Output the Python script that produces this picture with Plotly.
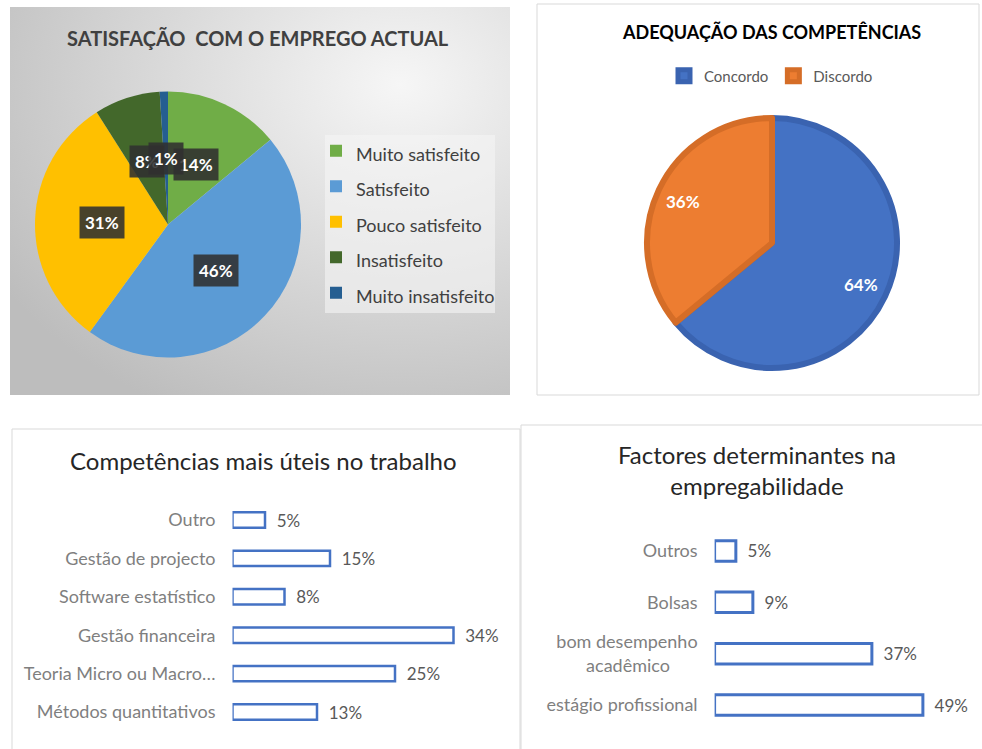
import math
import base64
import plotly.graph_objects as go

W, H = 982, 749

# ---------------- data ----------------
sat_labels = ["Muito satisfeito", "Satisfeito", "Pouco satisfeito", "Insatisfeito", "Muito insatisfeito"]
sat_values = [14, 46, 31, 8, 1]
sat_colors = ["#70AD47", "#5B9BD5", "#FFC000", "#43682B", "#255E91"]

adq_labels = ["Concordo", "Discordo"]
adq_values = [64, 36]
adq_colors = ["#4472C4", "#ED7D31"]
adq_borders = ["#3A63B0", "#D56D27"]

comp_categories = ["Outro", "Gestão de projecto", "Software estatístico",
                   "Gestão financeira", "Teoria Micro ou Macro…", "Métodos quantitativos"]
comp_values = [5, 15, 8, 34, 25, 13]

fact_categories = ["Outros", "Bolsas", "bom desempenho<br>acadêmico\u00a0\u00a0\u00a0\u00a0\u00a0\u00a0",
                   "estágio profissional"]
fact_values = [5, 9, 37, 49]

FONT = "Lato"


def fx(px):
    return px / W


def fy(py):
    return 1 - py / H


def pie_label_positions(values, cx, cy, r):
    total = sum(values)
    cum = 0
    out = []
    for v in values:
        mid = (cum + v / 2) / total * 2 * math.pi
        out.append((cx + r * math.sin(mid), cy - r * math.cos(mid)))
        cum += v
    return out


fig = go.Figure()

# ---------- panel 1: pie ----------
P1_CX, P1_CY, P1_R = 168, 224.5, 133
fig.add_trace(go.Pie(
    labels=[f"<span style='font-size:18px'>{l}</span>" for l in sat_labels],
    values=sat_values,
    marker=dict(colors=sat_colors, line=dict(width=0)),
    sort=False, direction="clockwise", rotation=0,
    textinfo="none", hoverinfo="label+percent",
    domain=dict(x=[fx(P1_CX - P1_R), fx(P1_CX + P1_R)], y=[fy(P1_CY + P1_R), fy(P1_CY - P1_R)]),
    legend="legend",
))

# ---------- panel 2: pie ----------
P2_CX, P2_CY, P2_R = 772, 243, 125
fig.add_trace(go.Pie(
    labels=adq_labels,
    values=adq_values,
    marker=dict(colors=adq_colors, line=dict(color=adq_borders, width=6)),
    sort=False, direction="clockwise", rotation=0,
    textinfo="none", hoverinfo="label+percent",
    domain=dict(x=[fx(P2_CX - P2_R), fx(P2_CX + P2_R)], y=[fy(P2_CY + P2_R), fy(P2_CY - P2_R)]),
    legend="legend2",
))

# ---------- panel 3: bars ----------
fig.add_trace(go.Bar(
    x=comp_values, y=comp_categories, orientation="h",
    marker=dict(color="white", line=dict(color="#4472C4", width=2.5)),
    texttemplate="\u00a0\u00a0%{x}%", textposition="outside",
    textfont=dict(family=FONT, size=17, color="#595959"),
    constraintext="none", cliponaxis=False, showlegend=False,
    xaxis="x", yaxis="y",
))

# ---------- panel 4: bars ----------
fig.add_trace(go.Bar(
    x=fact_values, y=fact_categories, orientation="h",
    marker=dict(color="white", line=dict(color="#4472C4", width=3)),
    texttemplate="\u00a0\u00a0%{x}%", textposition="outside",
    textfont=dict(family=FONT, size=17, color="#595959"),
    constraintext="none", cliponaxis=False, showlegend=False,
    xaxis="x2", yaxis="y2",
))

# ---------- annotations ----------
ann = []
ann.append(dict(text="SATISFAÇÃO  COM O EMPREGO ACTUAL", x=fx(258), y=fy(38),
                xref="paper", yref="paper", showarrow=False, xanchor="center", yanchor="middle",
                font=dict(family=FONT, size=20, color="#404040", weight="bold")))
ann.append(dict(text="ADEQUAÇÃO DAS COMPETÊNCIAS", x=fx(771), y=fy(32),
                xref="paper", yref="paper", showarrow=False, xanchor="center", yanchor="middle",
                font=dict(family=FONT, size=18, color="#000000", weight="bold")))
ann.append(dict(text="Competências mais úteis no trabalho", x=fx(263), y=fy(460),
                xref="paper", yref="paper", showarrow=False, xanchor="center", yanchor="middle",
                font=dict(family=FONT, size=24, color="#262626")))
ann.append(dict(text="Factores determinantes na<br>empregabilidade", x=fx(757), y=fy(470),
                xref="paper", yref="paper", showarrow=False, xanchor="center", yanchor="middle",
                font=dict(family=FONT, size=24, color="#262626")))

for (px, py), v in zip(pie_label_positions(sat_values, P1_CX, P1_CY, 0.5 * P1_R), sat_values):
    ann.append(dict(text=f"{v}%", x=fx(px), y=fy(py), xref="paper", yref="paper",
                    showarrow=False, xanchor="center", yanchor="middle",
                    bgcolor="rgba(48,48,48,0.88)", borderpad=5,
                    font=dict(family=FONT, size=17, color="white", weight="bold")))

for (px, py), v in zip(pie_label_positions(adq_values, P2_CX, P2_CY, 0.77 * (P2_R + 3)), adq_values):
    ann.append(dict(text=f"{v}%", x=fx(px), y=fy(py), xref="paper", yref="paper",
                    showarrow=False, xanchor="center", yanchor="middle",
                    font=dict(family=FONT, size=17, color="white", weight="bold")))

# ---------- backgrounds ----------
svg = ('<svg xmlns="http://www.w3.org/2000/svg" width="500" height="388" viewBox="0 0 500 388" '
       'preserveAspectRatio="none"><defs><radialGradient id="g" cx="0.78" cy="0.2" r="0.95" '
       'fx="0.78" fy="0.2"><stop offset="0" stop-color="#F6F6F6"/><stop offset="1" stop-color="#BDBDBD"/>'
       '</radialGradient></defs><rect width="500" height="388" fill="url(#g)"/></svg>')
img_src = "data:image/svg+xml;base64," + base64.b64encode(svg.encode()).decode()

shapes = [
    dict(type="rect", xref="paper", yref="paper", x0=fx(325), x1=fx(495), y0=fy(313), y1=fy(135),
         fillcolor="rgba(245,245,245,0.6)", line=dict(width=0), layer="below"),
    dict(type="rect", xref="paper", yref="paper", x0=fx(537), x1=fx(979), y0=fy(395), y1=fy(4),
         fillcolor="white", line=dict(color="#D9D9D9", width=1), layer="below"),
    dict(type="rect", xref="paper", yref="paper", x0=fx(12), x1=fx(520), y0=fy(760), y1=fy(429),
         fillcolor="white", line=dict(color="#D9D9D9", width=1), layer="below"),
    dict(type="rect", xref="paper", yref="paper", x0=fx(521), x1=fx(990), y0=fy(760), y1=fy(425),
         fillcolor="white", line=dict(color="#D9D9D9", width=1), layer="below"),
]

axis_common = dict(showgrid=False, zeroline=False, showline=False, ticks="")

fig.update_layout(
    width=W, height=H, autosize=False,
    margin=dict(l=0, r=0, t=0, b=0),
    paper_bgcolor="white", plot_bgcolor="rgba(0,0,0,0)",
    font=dict(family=FONT),
    annotations=ann, shapes=shapes,
    images=[dict(source=img_src, xref="paper", yref="paper", x=fx(10), y=fy(7),
                 sizex=500 / W, sizey=388 / H, xanchor="left", yanchor="top",
                 sizing="stretch", layer="below")],
    xaxis=dict(domain=[fx(232.5), fx(492.5)], range=[0, 40], showticklabels=False, anchor="y", **axis_common),
    yaxis=dict(domain=[fy(731.2), fy(500.8)], range=[5.5, -0.5], type="category", anchor="x",
               tickfont=dict(family=FONT, size=18, color="#7F7F7F"), ticklabelstandoff=16, **axis_common),
    xaxis2=dict(domain=[fx(714.6), fx(948.4)], range=[0, 55], showticklabels=False, anchor="y2", **axis_common),
    yaxis2=dict(domain=[fy(730.7), fy(525.3)], range=[3.5, -0.5], type="category", anchor="x2",
                tickfont=dict(family=FONT, size=18, color="#7F7F7F"), ticklabelstandoff=16, **axis_common),
    bargap=0.6,
    legend=dict(x=fx(316), y=fy(128), xanchor="left", yanchor="top", bgcolor="rgba(0,0,0,0)",
                font=dict(family=FONT, size=25, color="#404040"), orientation="v"),
    legend2=dict(x=fx(771), y=fy(76), xanchor="center", yanchor="middle", bgcolor="rgba(0,0,0,0)",
                 orientation="h", font=dict(family=FONT, size=15, color="#595959")),
)

fig.write_html("out.html", config={"displayModeBar": False},
               post_script="document.body.style.margin='0';document.body.style.overflow='hidden';")
